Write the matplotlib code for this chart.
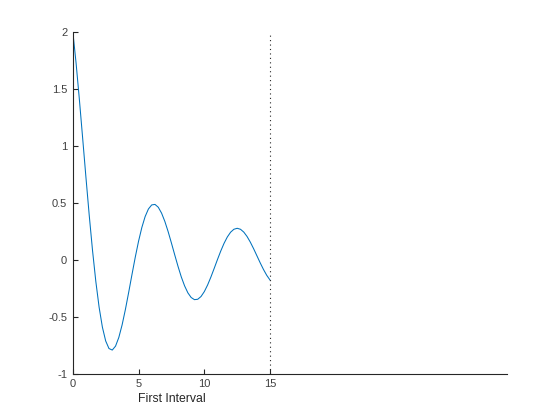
import matplotlib
matplotlib.use("Agg")
import matplotlib.pyplot as plt
import matplotlib.transforms as mtransforms

# values (x step 0.25)
x_vals = [i * 0.25 for i in range(61)]
y_vals = [
    2.000, 1.7225, 1.4042, 1.0643, 0.7204, 0.3881, 0.0808, -0.1901,
    -0.4161, -0.5913, -0.7121, -0.7784, -0.7920, -0.7574, -0.6811, -0.5709,
    -0.4358, -0.2855, -0.1297, 0.0223, 0.1621, 0.2825, 0.3780, 0.4445,
    0.4801, 0.4845, 0.4596, 0.4082, 0.3351, 0.2457, 0.1459, 0.0425,
    -0.0582, -0.1512, -0.2293, -0.2905, -0.3313, -0.3502, -0.3468, -0.3226,
    -0.2797, -0.2215, -0.1522, -0.0763, 0.0014, 0.0760, 0.1433, 0.1992,
    0.2411, 0.2668, 0.2753, 0.2667, 0.2420, 0.2034, 0.1535, 0.0960,
    0.0342, -0.0277, -0.0860, -0.1376, -0.1788,
]
interval_end = 15
x_ticks = [0, 5, 10, 15]
y_ticks = [-1, -0.5, 0, 0.5, 1, 1.5, 2]
y_ticklabels = ["-1", "-0.5", "0", "0.5", "1", "1.5", "2"]
xlabel_text = "First Interval"

axis_gray = (0.15, 0.15, 0.15)
plt.rcParams["font.family"] = ["Liberation Sans", "DejaVu Sans"]

fig = plt.figure(figsize=(5.6, 4.2), dpi=100)
ax = fig.add_axes([0.13, 0.11, 0.775, 0.815])

ax.plot(x_vals, y_vals, color="#0072BD", linewidth=0.75)
ax.axvline(interval_end, color=axis_gray, linestyle=(0, (1, 3)), linewidth=0.8)

ax.set_xlim(0, 33)
ax.set_ylim(-1, 2)
ax.set_xticks(x_ticks)
ax.set_xticklabels([str(t) for t in x_ticks])
ax.set_yticks(y_ticks)
ax.set_yticklabels(y_ticklabels)

for side in ["top", "right"]:
    ax.spines[side].set_visible(False)
for side in ["left", "bottom"]:
    ax.spines[side].set_color(axis_gray)
    ax.spines[side].set_linewidth(0.8)

ax.tick_params(direction="in", length=3.5, width=0.8, colors=axis_gray,
               labelsize=8, pad=4)
ax.tick_params(labelcolor=(0.25, 0.25, 0.25))

trans = mtransforms.blended_transform_factory(ax.transData, ax.transAxes)
ax.text(interval_end / 2, -0.055, xlabel_text, transform=trans,
        ha="center", va="top", fontsize=8.8, color=axis_gray)

fig.savefig("out.png", dpi=100)
